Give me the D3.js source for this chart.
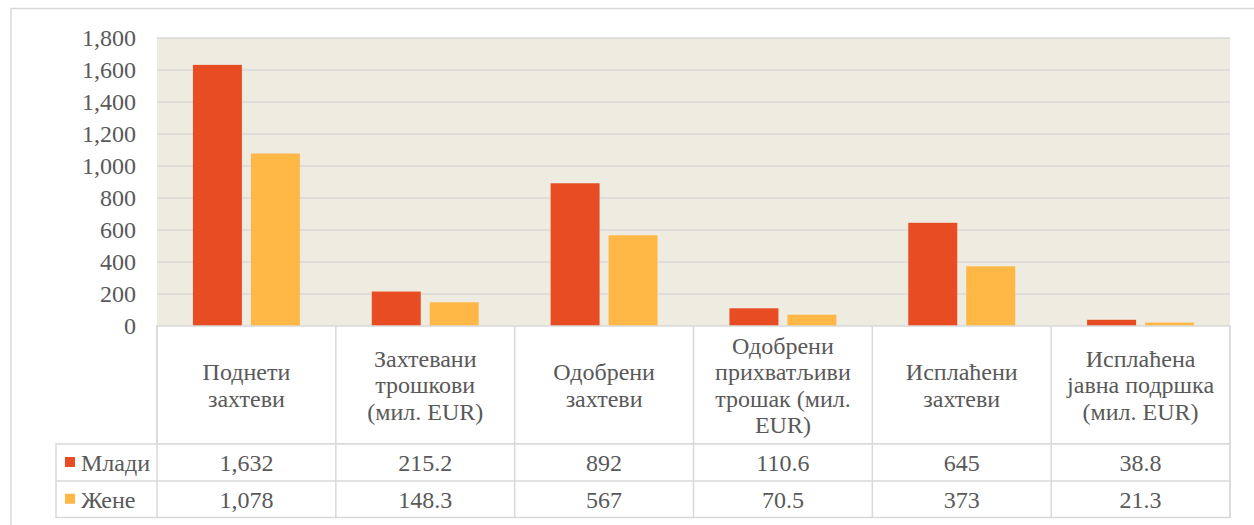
<!DOCTYPE html>
<html><head><meta charset="utf-8">
<script src="https://cdn.jsdelivr.net/npm/d3@7"></script>
</head>
<body style="margin:0;background:#fff">
<svg id="c" width="1254" height="525" style="display:block"></svg>
<script>
const categories = [
  ["Поднети","захтеви"],
  ["Захтевани","трошкови","(мил. EUR)"],
  ["Одобрени","захтеви"],
  ["Одобрени","прихватљиви","трошак (мил.","EUR)"],
  ["Исплаћени","захтеви"],
  ["Исплаћена","јавна подршка","(мил. EUR)"]
];
const valueFormats = [",d", ".1f", ",d", ".1f", ",d", ".1f"];
const seriesNames = ["Млади", "Жене"];
const mladi = [1632, 215.2, 892, 110.6, 645, 38.8];
const zene = [1078, 148.3, 567, 70.5, 373, 21.3];
const yTicks = [0, 200, 400, 600, 800, 1000, 1200, 1400, 1600, 1800];
const colors = ["#E84C22", "#FFB845"];

const chartSeries = [mladi, zene];
const svg = d3.select("#c");
const gridCol = "#d9d9d9";
const fs = "24px";
const FF = '"Times", "Tinos", "Liberation Serif", serif';
const txtCol = "#595959";

function styleText(sel) {
  return sel.style("font-family", FF).style("font-size", fs).style("fill", txtCol);
}

const pL = 157, pR = 1230, pT = 38, pB = 326;
const headerBottom = 444, row1Bottom = 481, row2Bottom = 517.5, legendLeft = 56;

svg.append("rect").attr("x", 11).attr("y", 8.5).attr("width", 1260).attr("height", 530)
  .attr("fill", "none").attr("stroke", gridCol).attr("stroke-width", 1.5);

const x0 = d3.scaleBand().domain(d3.range(categories.length)).range([pL, pR]).padding(0);
const x1 = d3.scaleBand().domain(d3.range(seriesNames.length)).range([0, x0.bandwidth()])
  .paddingInner(9/58).paddingOuter(0.62);
const y = d3.scaleLinear().domain([0, 1800]).range([pB, pT]);

svg.append("rect").attr("x", pL).attr("y", pT).attr("width", pR-pL).attr("height", pB-pT)
  .attr("fill", "#EEEBE0");

svg.append("g").selectAll("line").data(yTicks.filter(d => d > 0)).join("line")
  .attr("x1", pL).attr("x2", pR)
  .attr("y1", d => y(d)).attr("y2", d => y(d))
  .attr("stroke", gridCol).attr("stroke-width", 1.5);

const yAxis = d3.axisLeft(y).tickValues(yTicks).tickFormat(d3.format(",")).tickSize(0).tickPadding(21);
const ya = svg.append("g").attr("transform", `translate(${pL},0)`).call(yAxis);
ya.select(".domain").remove();
ya.attr("font-family", null).attr("font-size", null);
styleText(ya.selectAll("text"));

const groups = svg.append("g").selectAll("g").data(categories).join("g")
  .attr("transform", (d, i) => `translate(${x0(i)},0)`);
groups.selectAll("rect").data((d, i) => chartSeries.map((s, j) => ({j, v: s[i]}))).join("rect")
  .attr("x", d => x1(d.j)).attr("width", x1.bandwidth())
  .attr("y", d => y(d.v)).attr("height", d => pB - y(d.v))
  .attr("fill", d => colors[d.j]);

const tg = svg.append("g");
tg.append("rect").attr("x", pL).attr("y", pB).attr("width", pR-pL).attr("height", headerBottom-pB)
  .attr("fill", "#fff").attr("stroke", gridCol).attr("stroke-width", 1.5);
tg.append("rect").attr("x", legendLeft).attr("y", headerBottom).attr("width", pR-legendLeft).attr("height", row2Bottom-headerBottom)
  .attr("fill", "#fff").attr("stroke", gridCol).attr("stroke-width", 1.5);
tg.append("line").attr("x1", legendLeft).attr("x2", pR).attr("y1", row1Bottom).attr("y2", row1Bottom)
  .attr("stroke", gridCol).attr("stroke-width", 1.5);
tg.selectAll("line.v").data(d3.range(categories.length + 1)).join("line").attr("class", "v")
  .attr("x1", i => i < categories.length ? x0(i) : pR).attr("x2", i => i < categories.length ? x0(i) : pR)
  .attr("y1", pB).attr("y2", row2Bottom)
  .attr("stroke", gridCol).attr("stroke-width", 1.5);

const lh = 26.5;
const hc = (pB + headerBottom) / 2;
categories.forEach((lines, i) => {
  const cx = x0(i) + x0.bandwidth() / 2;
  const t = styleText(tg.append("text").attr("text-anchor", "middle"));
  const y0 = hc - (lines.length - 1) * lh / 2;
  lines.forEach((ln, k) => {
    t.append("tspan").attr("x", cx).attr("y", y0 + k * lh).attr("dy", "0.35em").text(ln);
  });
});

const rowMid = [(headerBottom + row1Bottom) / 2, (row1Bottom + row2Bottom) / 2];
chartSeries.forEach((s, j) => {
  tg.append("rect").attr("x", 65).attr("y", rowMid[j] - 5.5).attr("width", 10).attr("height", 10)
    .attr("fill", colors[j]);
  styleText(tg.append("text").attr("x", 81).attr("y", rowMid[j]).attr("dy", "0.35em")).text(seriesNames[j]);
  s.forEach((v, i) => {
    styleText(tg.append("text").attr("x", x0(i) + x0.bandwidth() / 2).attr("y", rowMid[j]).attr("dy", "0.35em")
      .attr("text-anchor", "middle"))
      .text(d3.format(valueFormats[i])(v));
  });
});
</script>
</body></html>
